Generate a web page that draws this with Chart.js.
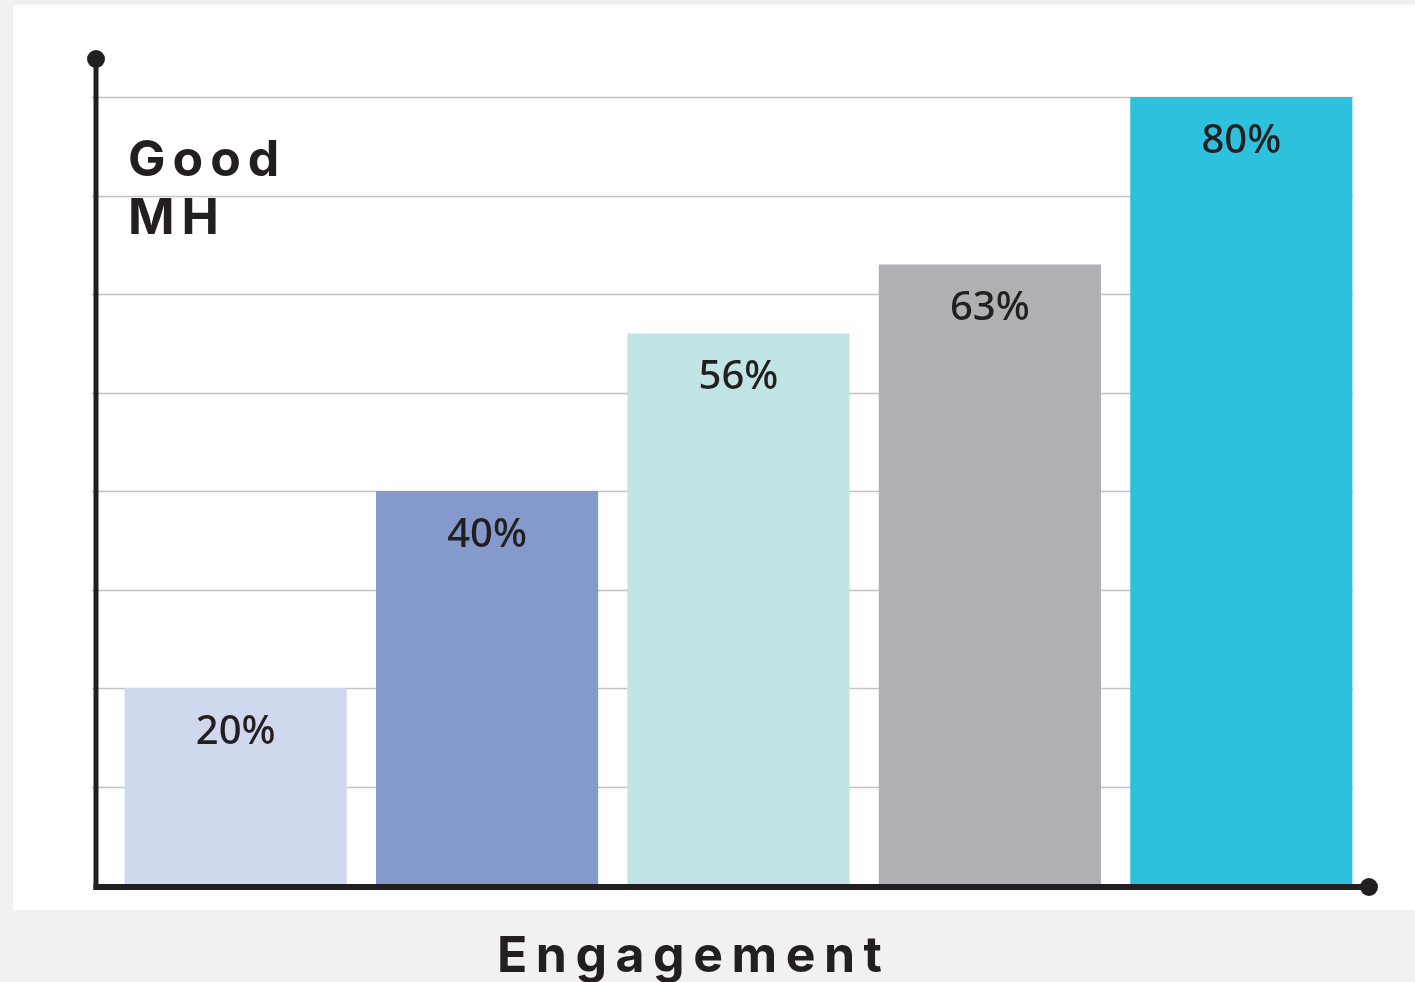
<!DOCTYPE html>
<html>
<head>
<meta charset="utf-8">
<script src="https://cdn.jsdelivr.net/npm/chart.js@4"></script>
<style>
  body { margin: 0; background: #f1f1f1; width: 1415px; height: 982px; overflow: hidden; position: relative; }
  #panel { position: absolute; left: 13px; top: 5px; width: 1402px; height: 905px; background: #fff; }
  #wrap { position: absolute; left: 0; top: 0; width: 1415px; height: 982px; }
  .lbl { position: absolute; font-family: Inter, "Open Sans", sans-serif; font-weight: 700; color: #231f20; white-space: nowrap; }
  #ytitle { left: 128px; top: 129px; font-size: 50px; line-height: 58px; letter-spacing: 7px; }
  #xtitle { left: 497px; top: 924px; font-size: 50px; line-height: 60px; letter-spacing: 8.5px; }
</style>
</head>
<body>
<div id="panel"></div>
<div id="wrap"><canvas id="chart" width="1415" height="982"></canvas></div>
<div class="lbl" id="ytitle">Good<br>MH</div>
<div class="lbl" id="xtitle">Engagement</div>
<script>
// categories / values
const groups = ['A', 'B', 'C', 'D', 'E'];
const values = [20, 40, 56, 63, 80];
const barColors = ['#cfd8ec', '#8499cc', '#c1e5e4', '#b0afb3', '#2ec1de'];
const gridValues = [10, 20, 30, 40, 50, 60, 70, 80];

const ink = '#231f20';

// axes with dots + gridlines, drawn behind the bars
const axesPlugin = {
  id: 'axesPlugin',
  beforeDatasetsDraw(chart) {
    const c = chart.ctx;
    const y = chart.scales.y;
    const area = chart.chartArea;
    const axisX = area.left - 14;
    c.save();
    c.strokeStyle = '#c4c4c4';
    c.lineWidth = 1.5;
    gridValues.forEach(v => {
      const py = Math.round(y.getPixelForValue(v)) + 0.5;
      c.beginPath();
      c.moveTo(axisX - 4, py);
      c.lineTo(area.right - 14, py);
      c.stroke();
    });
    c.restore();
  },
  afterDatasetsDraw(chart) {
    const c = chart.ctx;
    const y = chart.scales.y;
    const area = chart.chartArea;
    const axisX = area.left - 14;
    const baseY = y.getPixelForValue(0) + 2;
    const topY = y.getPixelForValue(80) - 38;
    c.save();
    c.strokeStyle = ink;
    c.fillStyle = ink;
    c.lineWidth = 5;
    c.beginPath();
    c.moveTo(axisX, topY);
    c.lineTo(axisX, baseY + 3);
    c.stroke();
    c.lineWidth = 6;
    c.beginPath();
    c.moveTo(axisX - 2.5, baseY);
    c.lineTo(area.right + 2, baseY);
    c.stroke();
    c.beginPath();
    c.arc(axisX, topY, 9, 0, Math.PI * 2);
    c.fill();
    c.beginPath();
    c.arc(area.right + 2, baseY, 9, 0, Math.PI * 2);
    c.fill();

    // value labels inside bars
    c.font = '500 40px "Noto Sans", "Open Sans", sans-serif';
    c.textAlign = 'center';
    c.textBaseline = 'alphabetic';
    chart.getDatasetMeta(0).data.forEach((bar, i) => {
      c.fillText(values[i] + '%', bar.x, bar.y + 56);
    });
    c.restore();
  }
};

new Chart(document.getElementById('chart'), {
  type: 'bar',
  data: {
    labels: groups,
    datasets: [{
      data: values,
      backgroundColor: barColors,
      borderWidth: 0,
      barPercentage: 0.8836,
      categoryPercentage: 1
    }]
  },
  options: {
    responsive: false,
    animation: false,
    layout: { padding: { left: 110, right: 48, top: 97, bottom: 97 } },
    plugins: { legend: { display: false }, tooltip: { enabled: false } },
    scales: {
      x: { display: false },
      y: { display: false, min: 0, max: 80 }
    }
  },
  plugins: [axesPlugin]
});
</script>
</body>
</html>
